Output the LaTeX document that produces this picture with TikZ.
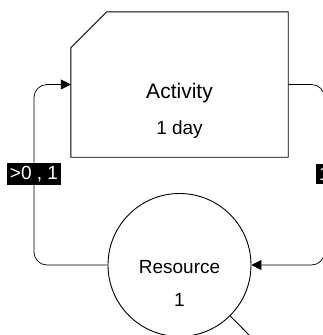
\documentclass[tikz,border=0pt]{standalone}
\usepackage{fontspec}
\setmainfont{Liberation Sans}
\usetikzlibrary{calc,arrows.meta}
\tikzset{
  activity/.style={rectangle, minimum width=217pt, minimum height=145pt, inner sep=0pt},
  outline/.style={line width=0.9pt, line join=miter},
  resource/.style={circle, draw, line width=0.9pt, minimum size=143pt, inner sep=0pt},
  link/.style={line width=0.7pt, rounded corners=13pt, -{Triangle[length=10pt,width=10pt]}},
  weight/.style={fill=black, text=white, font=\fontsize{19}{19}\selectfont, inner sep=3pt},
}
\begin{document}
\begin{tikzpicture}[x=1pt,y=-1pt]
\useasboundingbox (0,0) rectangle (323,335);
\clip (0,0) rectangle (323,335);
\node[activity, label={[align=center, font=\fontsize{21}{36}\selectfont, yshift=-26pt]center:Activity\\{\fontsize{19}{36}\selectfont 1 day}}] (act) at (179.5,84.5) {};
% chamfered corner at the top left
\draw[outline] ($(act.north west)+(0,36)$) -- ($(act.north west)+(36,0)$)
  -- (act.north east) -- (act.south east) -- (act.south west) -- cycle;
\node[resource, label={[align=center, font=\fontsize{19}{33}\selectfont, yshift=-18pt]center:Resource\\1}] (res) at (179.5,265) {};
\coordinate (lb) at (34,174);
\coordinate (rb) at (324.5,174);
\coordinate (nxt) at (265,351);
\draw[link] (res.west) -| (lb) |- (act.west);
\draw[link] (act.east) -| (rb) |- (res.east);
\draw[line width=0.9pt] (res) -- (nxt);
\node[weight] (w1) at (lb) {>0 , 1};
\node[weight] (w2) at (rb) {1};
\end{tikzpicture}
\end{document}
